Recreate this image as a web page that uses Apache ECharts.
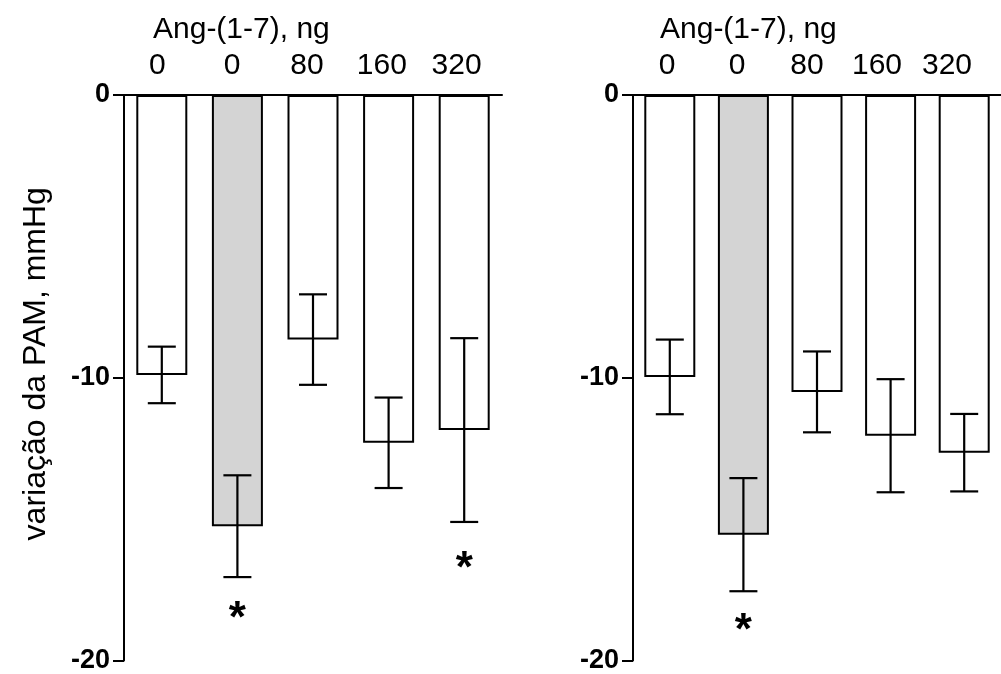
<!DOCTYPE html>
<html>
<head>
<meta charset="utf-8">
<script src="https://cdn.jsdelivr.net/npm/echarts@6/dist/echarts.min.js"></script>
<style>
  html, body { margin: 0; padding: 0; background: #fff; }
  #chart { width: 1001px; height: 674px; }
</style>
</head>
<body>
<div id="chart"></div>
<script>
// doses of Ang-(1-7), ng
var doses = ['0', '0', '80', '160', '320'];
var yTicks = [0, -10, -20];

// left panel: mean and SEM, mmHg
var leftMean = [-9.9, -15.25, -8.65, -12.3, -11.85];
var leftErr = [1.0, 1.8, 1.6, 1.6, 3.25];
var leftSig = [null, -18.2, null, null, -16.45];

// right panel
var rightMean = [-9.97, -15.55, -10.5, -12.05, -12.65];
var rightErr = [1.32, 2.0, 1.43, 2.0, 1.37];
var rightSig = [null, -18.65, null, null, null];

var FONT = '"Liberation Sans", Arial, sans-serif';
var chart = echarts.init(document.getElementById('chart'));

function barColor(p) {
    return p.dataIndex === 1 ? '#d4d4d4' : '#ffffff';
}

function errData(mean, err) {
    return mean.map(function (m, i) { return [i, m, err[i]]; });
}

function sigData(sig) {
    var out = [];
    sig.forEach(function (v, i) { if (v !== null) out.push([i, v]); });
    return out;
}

function renderErr(params, api) {
    var i = api.value(0), m = api.value(1), e = api.value(2);
    var hi = api.coord([i, m + e]);
    var lo = api.coord([i, m - e]);
    var hw = 14;
    var st = { stroke: '#000', lineWidth: 2.2 };
    return {
        type: 'group',
        children: [
            { type: 'line', shape: { x1: hi[0], y1: hi[1], x2: lo[0], y2: lo[1] }, style: st },
            { type: 'line', shape: { x1: hi[0] - hw, y1: hi[1], x2: hi[0] + hw, y2: hi[1] }, style: st },
            { type: 'line', shape: { x1: lo[0] - hw, y1: lo[1], x2: lo[0] + hw, y2: lo[1] }, style: st }
        ]
    };
}

function renderSig(params, api) {
    var p = api.coord([api.value(0), api.value(1)]);
    return {
        type: 'text',
        style: {
            text: '*', x: p[0], y: p[1] + 10,
            fill: '#000', font: 'bold 44px ' + FONT,
            align: 'center', verticalAlign: 'middle'
        }
    };
}

function valueAxis(idx, name) {
    return {
        type: 'value', gridIndex: idx, min: -20, max: 0, interval: 10,
        name: name, nameLocation: 'middle', nameGap: 72,
        nameTextStyle: { fontSize: 32, fontFamily: FONT, color: '#000', padding: [0, 0, 0, 28] },
        axisLine: { show: true, lineStyle: { color: '#000', width: 2 } },
        axisTick: { show: true, length: 11, lineStyle: { color: '#000', width: 2 } },
        axisLabel: { fontSize: 27, fontWeight: 'bold', fontFamily: FONT, color: '#000', margin: 14 },
        splitLine: { show: false }
    };
}

function labelAxis(idx) {
    return {
        type: 'category', gridIndex: idx, position: 'top', data: doses,
        axisLine: { show: false }, axisTick: { show: false },
        axisLabel: { fontSize: 30, fontFamily: FONT, color: '#000', margin: 14 }
    };
}

function barAxis(idx) {
    return {
        type: 'category', gridIndex: idx, position: 'top', data: doses,
        axisLine: { show: true, lineStyle: { color: '#000', width: 2 } },
        axisTick: { show: false }, axisLabel: { show: false }
    };
}

var option = {
    backgroundColor: '#fff',
    animation: false,
    title: [
        { text: 'Ang-(1-7), ng', left: 148, top: 10,
          textStyle: { fontSize: 30, fontWeight: 'normal', fontFamily: FONT, color: '#000' } },
        { text: 'Ang-(1-7), ng', left: 655, top: 10,
          textStyle: { fontSize: 30, fontWeight: 'normal', fontFamily: FONT, color: '#000' } }
    ],
    grid: [
        { left: 124, top: 95, width: 378, height: 567 },
        { left: 633, top: 95, width: 377.5, height: 567 },
        { left: 120, top: 95, width: 374, height: 567 },
        { left: 632, top: 95, width: 350, height: 567 }
    ],
    xAxis: [barAxis(0), barAxis(1), labelAxis(2), labelAxis(3)],
    yAxis: [
        valueAxis(0, 'variação da PAM, mmHg'),
        valueAxis(1, ''),
        { type: 'value', gridIndex: 2, min: -20, max: 0, show: false },
        { type: 'value', gridIndex: 3, min: -20, max: 0, show: false }
    ],
    series: [
        { type: 'bar', xAxisIndex: 0, yAxisIndex: 0, data: leftMean, barWidth: 51,
          itemStyle: { color: barColor, borderColor: '#000', borderWidth: 2 } },
        { type: 'custom', xAxisIndex: 0, yAxisIndex: 0, data: errData(leftMean, leftErr),
          renderItem: renderErr, z: 5 },
        { type: 'custom', xAxisIndex: 0, yAxisIndex: 0, data: sigData(leftSig),
          renderItem: renderSig, z: 5 },
        { type: 'bar', xAxisIndex: 1, yAxisIndex: 1, data: rightMean, barWidth: 51,
          itemStyle: { color: barColor, borderColor: '#000', borderWidth: 2 } },
        { type: 'custom', xAxisIndex: 1, yAxisIndex: 1, data: errData(rightMean, rightErr),
          renderItem: renderErr, z: 5 },
        { type: 'custom', xAxisIndex: 1, yAxisIndex: 1, data: sigData(rightSig),
          renderItem: renderSig, z: 5 }
    ]
};

chart.setOption(option);
</script>
</body>
</html>
